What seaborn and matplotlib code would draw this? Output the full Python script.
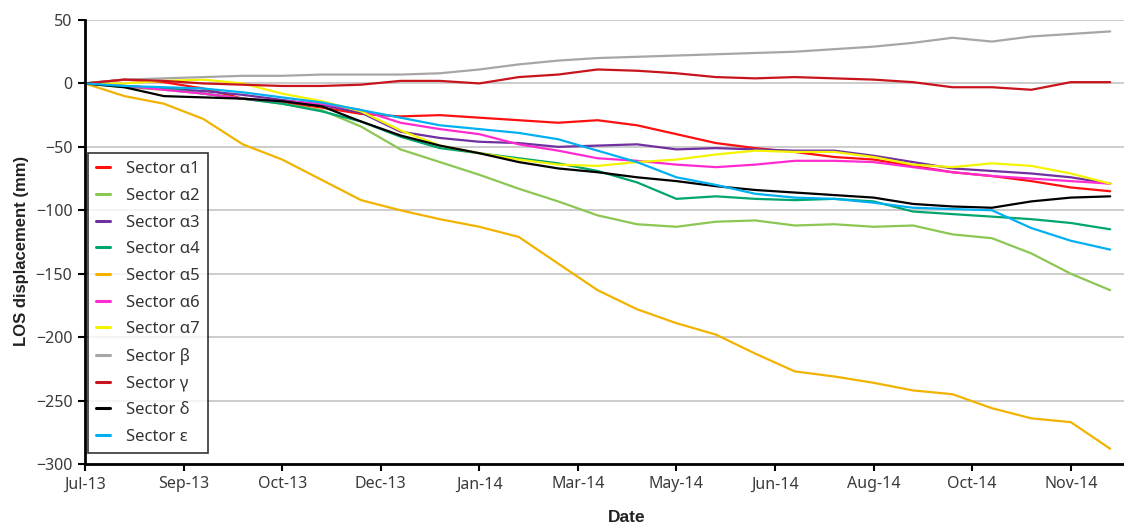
import datetime as dt
import matplotlib
matplotlib.use("Agg")
import matplotlib.pyplot as plt
import matplotlib.dates as mdates
import numpy as np
import pandas as pd
import seaborn as sns

# Observation days counted from the first acquisition
start_date = dt.date(2013, 7, 14)
days = list(range(0, 521, 20))

# LOS displacement (mm) per sector
alpha1 = [0, 3, 1, -4, -12, -15, -19, -24, -26, -25, -27, -29, -31, -29,
          -33, -40, -47, -51, -54, -58, -60, -65, -70, -73, -77, -82, -85]
alpha2 = [0, -3, -5, -8, -12, -16, -21, -34, -52, -62, -72, -83, -93, -104,
          -111, -113, -109, -108, -112, -111, -113, -112, -119, -122, -134, -150, -163]
alpha3 = [0, -2, -4, -6, -9, -13, -17, -23, -38, -43, -46, -47, -50, -49,
          -48, -52, -51, -52, -53, -53, -57, -62, -67, -69, -71, -74, -79]
alpha4 = [0, -2, -4, -8, -12, -16, -22, -30, -42, -51, -55, -59, -63, -69,
          -78, -91, -89, -91, -92, -91, -93, -101, -103, -105, -107, -110, -115]
alpha5 = [0, -10, -16, -28, -48, -60, -76, -92, -100, -107, -113, -121, -142, -163,
          -178, -189, -198, -213, -227, -231, -236, -242, -245, -256, -264, -267, -288]
alpha6 = [0, -2, -5, -8, -12, -14, -16, -21, -31, -36, -40, -48, -53, -59,
          -61, -64, -66, -64, -61, -61, -62, -66, -70, -73, -75, -77, -79]
alpha7 = [0, 0, 2, 3, 0, -8, -14, -22, -37, -49, -55, -60, -64, -65,
          -62, -60, -56, -53, -54, -54, -58, -64, -66, -63, -65, -71, -79]
beta = [0, 3, 4, 5, 6, 6, 7, 7, 7, 8, 11, 15, 18, 20,
        21, 22, 23, 24, 25, 27, 29, 32, 36, 33, 37, 39, 41]
gamma = [0, 3, 2, 0, -1, -2, -2, -1, 2, 2, 0, 5, 7, 11,
         10, 8, 5, 4, 5, 4, 3, 1, -3, -3, -5, 1, 1]
delta = [0, -3, -10, -11, -12, -14, -18, -30, -41, -49, -55, -62, -67, -70,
         -74, -77, -81, -84, -86, -88, -90, -95, -97, -98, -93, -90, -89]
epsilon = [0, -2, -3, -4, -7, -11, -15, -21, -27, -33, -36, -39, -44, -53,
           -62, -74, -80, -87, -90, -91, -94, -98, -99, -100, -114, -124, -131]

sector_names = ["Sector α1", "Sector α2", "Sector α3", "Sector α4", "Sector α5",
                "Sector α6", "Sector α7", "Sector β", "Sector γ", "Sector δ",
                "Sector ε"]
sector_values = [alpha1, alpha2, alpha3, alpha4, alpha5, alpha6, alpha7,
                 beta, gamma, delta, epsilon]
sector_colors = ["#FF1010", "#8CC653", "#7030A0", "#00A66E", "#F2B300",
                 "#FF2BD0", "#F4F400", "#A6A6A6", "#C8141C", "#000000",
                 "#00B0F0"]

y_ticks = [50, 0, -50, -100, -150, -200, -250, -300]
tick_step_days = 50
n_ticks = 11

dates = [pd.Timestamp(start_date) + pd.Timedelta(days=d) for d in days]
frames = []
for name, vals in zip(sector_names, sector_values):
    frames.append(pd.DataFrame({"Date": dates, "disp": vals, "sector": name}))
df = pd.concat(frames, ignore_index=True)

sns.set_style("white")
plt.rcParams["font.family"] = ["Noto Sans", "DejaVu Sans"]

fig = plt.figure(figsize=(11.24, 5.25), dpi=100)
ax = fig.add_axes([85 / 1124, 1 - 464 / 525, 1 - 85 / 1124, (464 - 20) / 525])

sns.lineplot(data=df, x="Date", y="disp", hue="sector", hue_order=sector_names,
             palette=dict(zip(sector_names, sector_colors)), linewidth=1.6,
             ax=ax, legend=True)

ax.set_ylim(-300, 50)
ax.set_yticks(y_ticks)
x0 = pd.Timestamp(start_date)
ax.set_xlim(x0, x0 + pd.Timedelta(days=527))
ax.set_xticks([x0 + pd.Timedelta(days=tick_step_days * k) for k in range(n_ticks)])
ax.xaxis.set_major_formatter(mdates.DateFormatter("%b-%y"))

ax.yaxis.grid(True, color="#BFBFBF", linewidth=1.1)
ax.xaxis.grid(False)
for side in ["top", "right"]:
    ax.spines[side].set_visible(False)
for side in ["left", "bottom"]:
    ax.spines[side].set_color("black")
    ax.spines[side].set_linewidth(2)
ax.tick_params(axis="both", direction="out", length=5, width=1.5, color="black",
               labelsize=11.5, labelcolor="#3A3A3A", pad=4, bottom=True, left=True)

label_font = dict(family=["Liberation Sans", "DejaVu Sans"], weight="bold",
                  color="#222222")
ax.set_xlabel("Date", fontsize=12.5, **label_font)
ax.set_ylabel("LOS displacement (mm)", fontsize=12, **label_font)
ax.xaxis.set_label_coords((627 - 85) / 1039, (464 - 510) / 444)
ax.yaxis.set_label_coords((29 - 85) / 1039, 0.48)

leg = ax.legend(loc="upper left", bbox_to_anchor=(88 / 1124, 1 - 153 / 525),
                bbox_transform=fig.transFigure, frameon=True, fancybox=False,
                edgecolor="black", fontsize=12, handlelength=0.8,
                handletextpad=1.0, labelspacing=0.64, borderpad=0.5,
                borderaxespad=0)
leg.get_frame().set_linewidth(1.2)
for line in leg.get_lines():
    line.set_linewidth(2.2)
for txt in leg.get_texts():
    txt.set_color("#333333")

fig.savefig("out.png", dpi=100)
